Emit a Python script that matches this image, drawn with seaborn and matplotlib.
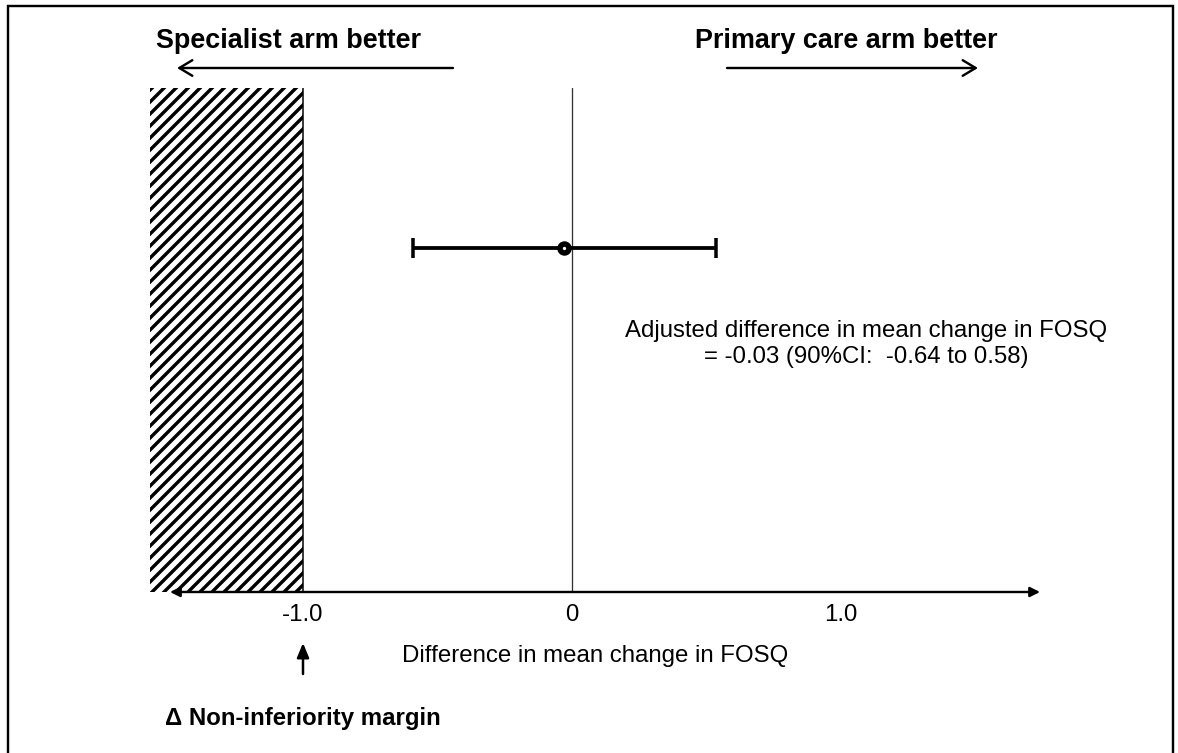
import numpy as np
import pandas as pd
import matplotlib
matplotlib.use("Agg")
import matplotlib.pyplot as plt
from matplotlib.patches import Rectangle, FancyArrowPatch
import seaborn as sns

# values
estimate = [-0.03]
ci_lower = [-0.59]
ci_upper = [0.535]
margin = -1.0
tick_values = [-1.0, 0.0, 1.0]
tick_labels = ["-1.0", "0", "1.0"]
annotation = "Adjusted difference in mean change in FOSQ\n= -0.03 (90%CI:  -0.64 to 0.58)"

df = pd.DataFrame({"est": estimate, "lo": ci_lower, "hi": ci_upper, "row": [0.683]})

sns.set_theme(style="white")
plt.rcParams['font.family'] = ['Liberation Sans', 'DejaVu Sans']
plt.rcParams['text.color'] = 'black'
plt.rcParams['xtick.color'] = 'black'
plt.rcParams['axes.labelcolor'] = 'black'
plt.rcParams['hatch.linewidth'] = 3.4

W, H = 1178, 753
fig = plt.figure(figsize=(W / 72, H / 72), dpi=72)
ax = fig.add_axes([150 / W, (H - 592) / H, (1040 - 150) / W, (592 - 88) / H])

# x scale: -1 at 303px, 0 at 572px
px = 269.0
ax.set_xlim((150 - 572) / px, (1040 - 572) / px)
ax.set_ylim(0, 1)
for s in ax.spines.values():
    s.set_visible(False)
ax.set_yticks([])

# non-inferiority region
x0 = ax.get_xlim()[0]
ax.axvspan(x0, margin, facecolor="white", edgecolor="black", hatch="//", lw=0)
ax.axvline(margin, color="black", lw=1.5)

# line of no difference
ax.axvline(0, color="#333333", lw=1.3)

# bottom axis with arrows at both ends
ax.annotate("", xy=((170 - 572) / px, 0), xytext=(ax.get_xlim()[1], 0),
            arrowprops=dict(arrowstyle="<|-|>", mutation_scale=20, lw=2.4,
                            color="black", shrinkA=0, shrinkB=0),
            annotation_clip=False)

# estimate with CI
ax.errorbar(df["est"], df["row"],
            xerr=[df["est"] - df["lo"], df["hi"] - df["est"]],
            fmt="none", ecolor="black", elinewidth=3.8, capsize=10, capthick=3.5)
sns.scatterplot(data=df, x="est", y="row", ax=ax, marker="o", s=80,
                facecolor="white", edgecolor="black", linewidth=5.5, zorder=5)

ax.set_xticks(tick_values)
ax.set_xticklabels(tick_labels, fontsize=24)
ax.tick_params(axis="x", length=0, pad=12)
ax.set_xlabel("Difference in mean change in FOSQ", fontsize=24, labelpad=19)
ax.set_ylabel("")

ax.text((866 - 572) / px, (592 - 344) / 504, annotation, ha="center", va="center",
        fontsize=24, linespacing=1.2)

# margin arrow and label
ax.annotate("", xy=(margin, (592 - 643) / 504), xytext=(margin, (592 - 674) / 504),
            arrowprops=dict(arrowstyle="-|>,head_length=0.6,head_width=0.25",
                            mutation_scale=20, lw=2.5, color="black",
                            shrinkA=0, shrinkB=0), annotation_clip=False)
fig.text(165 / W, 1 - 725 / H, "\u0394 Non-inferiority margin", fontsize=24,
         fontweight="bold", va="baseline")

# direction headers
fig.text(288 / W, 1 - 48 / H, "Specialist arm better", fontsize=27,
         fontweight="bold", ha="center", va="baseline")
fig.text(846 / W, 1 - 48 / H, "Primary care arm better", fontsize=27,
         fontweight="bold", ha="center", va="baseline")
fig.patches.append(FancyArrowPatch(
    (455 / W, 1 - 68 / H), (175 / W, 1 - 68 / H), transform=fig.transFigure,
    arrowstyle="->,head_length=0.5,head_width=0.3", mutation_scale=26, lw=2.4,
    color="black"))
fig.patches.append(FancyArrowPatch(
    (725 / W, 1 - 68 / H), (980 / W, 1 - 68 / H), transform=fig.transFigure,
    arrowstyle="->,head_length=0.5,head_width=0.3", mutation_scale=26, lw=2.4,
    color="black"))

# frame around the figure
fig.patches.append(Rectangle((8 / W, -0.02), (1173 - 8) / W, (1 - 6 / H) + 0.02,
                             transform=fig.transFigure, fill=False, lw=2.4,
                             edgecolor="black"))

fig.savefig("out.png", dpi=72, facecolor="white")
